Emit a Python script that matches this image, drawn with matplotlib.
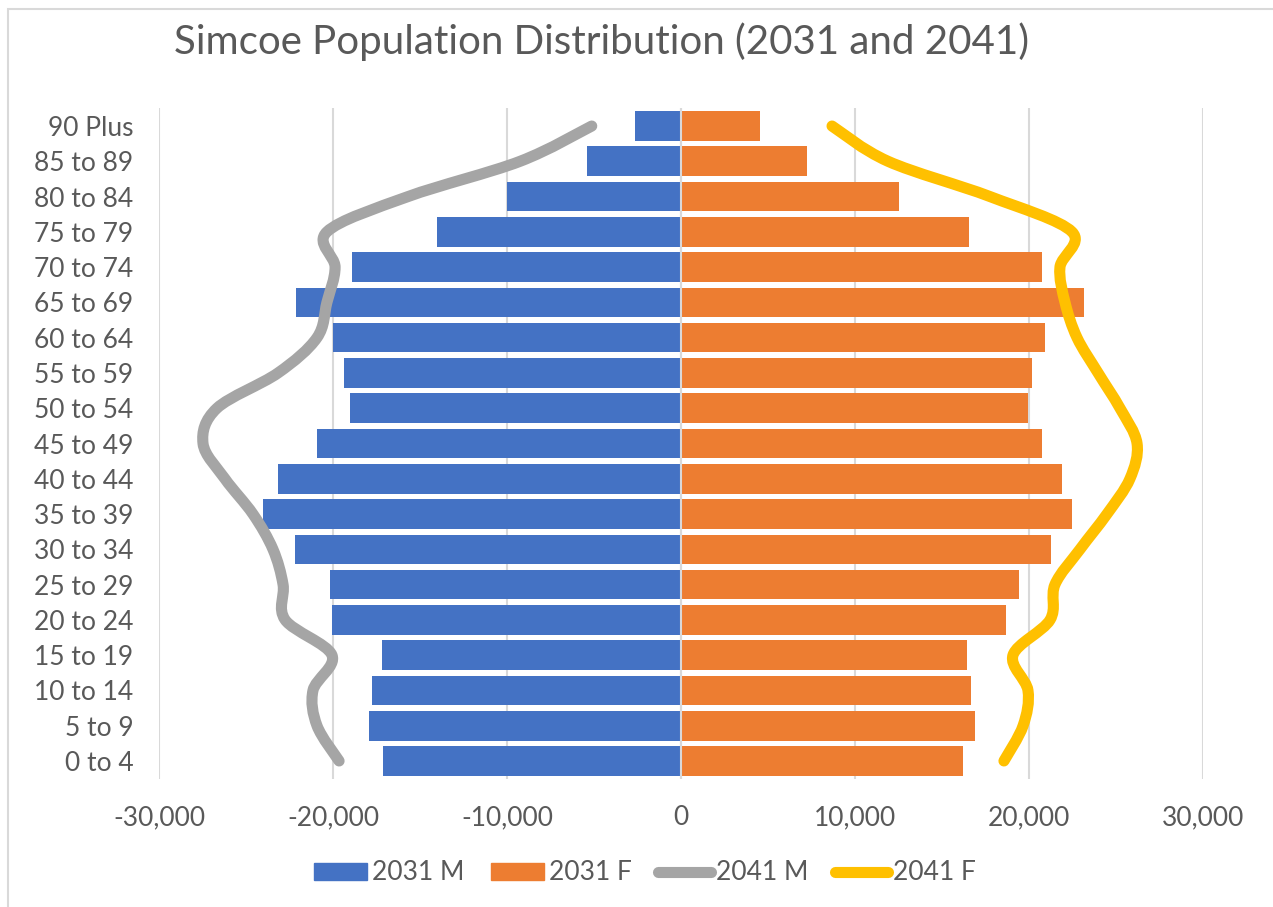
import matplotlib
matplotlib.use('Agg')
import matplotlib.pyplot as plt
import numpy as np
from matplotlib.path import Path
from matplotlib.patches import PathPatch, Patch, Rectangle
from matplotlib.lines import Line2D
from matplotlib.ticker import FuncFormatter

plt.rcParams['font.family'] = ['Lato', 'DejaVu Sans']

# age groups, youngest first (bottom of the pyramid)
ages = ['0 to 4', '5 to 9', '10 to 14', '15 to 19', '20 to 24', '25 to 29',
        '30 to 34', '35 to 39', '40 to 44', '45 to 49', '50 to 54', '55 to 59',
        '60 to 64', '65 to 69', '70 to 74', '75 to 79', '80 to 84', '85 to 89',
        '90 Plus']

# males are stored as negative numbers so they sit on the left
m_2031 = [-17130, -17910, -17740, -17180, -20040, -20190, -22200, -24020, -23180,
          -20900, -19020, -19370, -20000, -22130, -18910, -14020, -10000, -5400, -2650]
f_2031 = [16210, 16880, 16670, 16440, 18680, 19440, 21260, 22470, 21880,
          20750, 19940, 20170, 20920, 23160, 20730, 16550, 12530, 7240, 4540]
m_2041 = [-19650, -20920, -21150, -20060, -22750, -22870, -23450, -24600, -26210,
          -27470, -26670, -23160, -20920, -20350, -19880, -20350, -15690, -9250, -5130]
f_2041 = [18560, 19660, 19940, 19080, 21210, 21490, 22930, 24480, 25800,
          26210, 25230, 23970, 22760, 22070, 21780, 22470, 17760, 11900, 8680]

c_m31 = '#4472C4'
c_f31 = '#ED7D31'
c_m41 = '#A5A5A5'
c_f41 = '#FFC000'
txt = '#595959'
grid = '#D9D9D9'


def smooth_path(xs, ys):
    # catmull-rom style bezier through every point, like excel's smoothed line
    pts = np.column_stack([xs, ys]).astype(float)
    verts = [pts[0]]
    codes = [Path.MOVETO]
    n = len(pts)
    for i in range(n - 1):
        p0 = pts[i - 1] if i > 0 else pts[i]
        p1 = pts[i]
        p2 = pts[i + 1]
        p3 = pts[i + 2] if i + 2 < n else pts[i + 1]
        verts += [p1 + (p2 - p0) / 6.0, p2 - (p3 - p1) / 6.0, p2]
        codes += [Path.CURVE4] * 3
    return Path(verts, codes)


fig = plt.figure(figsize=(12.73, 9.07), dpi=100)
ax = fig.add_axes([159 / 1273, 128.4 / 907, 1044 / 1273, 670.2 / 907])

y = np.arange(len(ages))
ax.barh(y, m_2031, height=0.84, color=c_m31, zorder=2)
ax.barh(y, f_2031, height=0.84, color=c_f31, zorder=2)
ax.axvline(0, color=grid, lw=1.5, zorder=3)

for vals, col in [(m_2041, c_m41), (f_2041, c_f41)]:
    ax.add_patch(PathPatch(smooth_path(vals, y), fill=False, edgecolor=col, lw=8,
                           capstyle='round', joinstyle='round', zorder=4))

ax.set_xlim(-30000, 30000)
ax.set_ylim(-0.5, len(ages) - 0.5)
ax.set_xticks([-30000, -20000, -10000, 0, 10000, 20000, 30000])
ax.xaxis.set_major_formatter(FuncFormatter(lambda v, p: '{:,.0f}'.format(v)))
ax.set_yticks(y)
ax.set_yticklabels(ages)
ax.tick_params(axis='both', length=0, labelsize=19, colors=txt)
ax.tick_params(axis='x', pad=19)
ax.tick_params(axis='y', pad=18.5)
ax.grid(axis='x', color=grid, lw=1.5, zorder=0)
ax.set_axisbelow(True)
for s in ax.spines.values():
    s.set_visible(False)

fig.text(602 / 1273, 1 - 42 / 907, 'Simcoe Population Distribution (2031 and 2041)',
         ha='center', va='center', fontsize=29, color=txt)

handles = [Patch(color=c_m31), Patch(color=c_f31),
           Line2D([], [], color=c_m41, lw=8, solid_capstyle='round'),
           Line2D([], [], color=c_f41, lw=8, solid_capstyle='round')]
fig.legend(handles, ['2031 M', '2031 F', '2041 M', '2041 F'], loc='center',
           bbox_to_anchor=(645 / 1273, 1 - 873 / 907), ncol=4, frameon=False,
           fontsize=19, labelcolor=txt, handlelength=2.0, handleheight=0.6,
           handletextpad=0.2, columnspacing=1.0)

# light frame round the chart area
fig.patches.append(Rectangle((7.5 / 1273, -0.05), 1.2, 1 - 9 / 907 + 0.05,
                             transform=fig.transFigure, fill=False,
                             edgecolor=grid, lw=1.5))

fig.savefig('out.png', dpi=100)
